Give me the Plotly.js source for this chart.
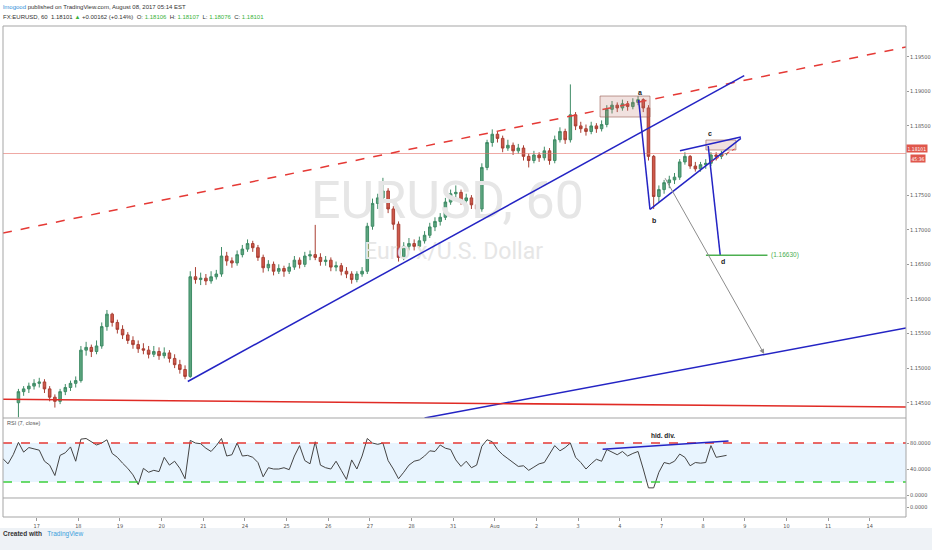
<!DOCTYPE html>
<html>
<head>
<meta charset="utf-8">
<script src="https://cdn.plot.ly/plotly-3.0.1.min.js"></script>
<style>
  html, body { margin: 0; padding: 0; background: #fff; }
  #chart { width: 932px; height: 550px; }
</style>
</head>
<body>
<div id="chart"></div>
<script>
// EURUSD, 3h bars (one row per trading day)
const dayLabels = ["17", "18", "19", "20", "21", "24", "25", "26", "27", "28", "31",
  "Aug", "2", "3", "4", "7", "8", "9", "10", "11", "14"];
// 1.18000 sits under the last-price tags, so it is not listed
const priceTicks = [1.145, 1.15, 1.155, 1.16, 1.165, 1.17, 1.175, 1.185, 1.19, 1.195];
const rsiTicks = [0, 40, 80];

const open = [
  1.1410, 1.1414, 1.1410, 1.1450, 1.1466, 1.1470, 1.1474,
  1.1478, 1.1480, 1.1470, 1.1458, 1.1452, 1.1466, 1.1472, 1.1478,
  1.1482, 1.1526, 1.1530, 1.1524, 1.1532, 1.1560, 1.1578, 1.1566,
  1.1556, 1.1548, 1.1540, 1.1534, 1.1528, 1.1526, 1.1520, 1.1524,
  1.1518, 1.1522, 1.1514, 1.1505, 1.1498, 1.1488, 1.1632, 1.1628,
  1.1630, 1.1626, 1.1632, 1.1636, 1.1662, 1.1655, 1.1652, 1.1664,
  1.1672, 1.1680, 1.1674, 1.1660, 1.1645, 1.1650, 1.1640, 1.1644,
  1.1640, 1.1646, 1.1656, 1.1650, 1.1662, 1.1664, 1.1660, 1.1654,
  1.1656, 1.1646, 1.1648, 1.1640, 1.1636, 1.1628, 1.1636, 1.1640,
  1.1705, 1.1738, 1.1746, 1.1756, 1.1730, 1.1708, 1.1660, 1.1676,
  1.1680, 1.1676, 1.1684, 1.1692, 1.1704, 1.1712, 1.1718, 1.1740,
  1.1752, 1.1754, 1.1742, 1.1746, 1.1736, 1.1730, 1.1790, 1.1826,
  1.1838, 1.1832, 1.1818, 1.1822, 1.1814, 1.1818, 1.1806, 1.1800,
  1.1808, 1.1804, 1.1814, 1.1800, 1.1830, 1.1842, 1.1830, 1.1866,
  1.1850, 1.1846, 1.1842, 1.1850, 1.1846, 1.1852, 1.1874, 1.1880,
  1.1876, 1.1882, 1.1878, 1.1884, 1.1888, 1.1876, 1.1806, 1.1748,
  1.1758, 1.1768, 1.1772, 1.1776, 1.1798, 1.1806, 1.1792, 1.1788,
  1.1794, 1.1796, 1.1808, 1.1806, 1.1810
];
const high = [
  1.1418, 1.1420, 1.1424, 1.1470, 1.1474, 1.1479, 1.1484,
  1.1486, 1.1484, 1.1474, 1.1462, 1.1470, 1.1477, 1.1482, 1.1488,
  1.1532, 1.1538, 1.1534, 1.1540, 1.1566, 1.1584, 1.1580, 1.1570,
  1.1562, 1.1552, 1.1546, 1.1540, 1.1536, 1.1532, 1.1532, 1.1530,
  1.1530, 1.1526, 1.1520, 1.1512, 1.1504, 1.1640, 1.1646, 1.1638,
  1.1636, 1.1640, 1.1642, 1.1675, 1.1668, 1.1660, 1.1670, 1.1678,
  1.1686, 1.1684, 1.1678, 1.1664, 1.1656, 1.1654, 1.1650, 1.1648,
  1.1652, 1.1662, 1.1660, 1.1668, 1.1670, 1.1707, 1.1666, 1.1662,
  1.1660, 1.1654, 1.1652, 1.1646, 1.1640, 1.1640, 1.1646, 1.1710,
  1.1745, 1.1752, 1.1775, 1.1760, 1.1734, 1.1712, 1.1682, 1.1688,
  1.1686, 1.1690, 1.1698, 1.1710, 1.1718, 1.1724, 1.1746, 1.1758,
  1.1764, 1.1758, 1.1752, 1.1750, 1.1742, 1.1796, 1.1830, 1.1845,
  1.1842, 1.1836, 1.1830, 1.1826, 1.1824, 1.1822, 1.1810, 1.1814,
  1.1812, 1.1820, 1.1818, 1.1836, 1.1848, 1.1846, 1.1910, 1.1870,
  1.1856, 1.1852, 1.1856, 1.1854, 1.1858, 1.1880, 1.1886, 1.1884,
  1.1888, 1.1886, 1.1890, 1.1893, 1.1890, 1.1880, 1.1808, 1.1764,
  1.1772, 1.1778, 1.1782, 1.1802, 1.1812, 1.1808, 1.1798, 1.1798,
  1.1802, 1.1812, 1.1812, 1.1814, 1.18107
];
const low = [
  1.1404, 1.1406, 1.1408, 1.1429, 1.1460, 1.1464, 1.1469,
  1.1472, 1.1464, 1.1452, 1.1443, 1.1448, 1.1461, 1.1467, 1.1472,
  1.1479, 1.1518, 1.1516, 1.1520, 1.1528, 1.1554, 1.1560, 1.1550,
  1.1542, 1.1535, 1.1528, 1.1522, 1.1520, 1.1514, 1.1516, 1.1512,
  1.1514, 1.1508, 1.1500, 1.1492, 1.1484, 1.1486, 1.1622, 1.1620,
  1.1620, 1.1622, 1.1628, 1.1632, 1.1648, 1.1645, 1.1648, 1.1660,
  1.1668, 1.1668, 1.1655, 1.1638, 1.1640, 1.1634, 1.1636, 1.1632,
  1.1636, 1.1642, 1.1644, 1.1646, 1.1656, 1.1656, 1.1648, 1.1648,
  1.1640, 1.1640, 1.1634, 1.1630, 1.1622, 1.1624, 1.1632, 1.1636,
  1.1700, 1.1730, 1.1740, 1.1724, 1.1700, 1.1654, 1.1656, 1.1670,
  1.1670, 1.1672, 1.1680, 1.1688, 1.1698, 1.1706, 1.1714, 1.1736,
  1.1746, 1.1736, 1.1738, 1.1730, 1.1724, 1.1726, 1.1786, 1.1820,
  1.1826, 1.1812, 1.1814, 1.1808, 1.1810, 1.1800, 1.1790, 1.1796,
  1.1798, 1.1800, 1.1794, 1.1796, 1.1826, 1.1824, 1.1826, 1.1844,
  1.1840, 1.1836, 1.1838, 1.1840, 1.1842, 1.1848, 1.1868, 1.1870,
  1.1872, 1.1872, 1.1874, 1.1880, 1.1870, 1.1800, 1.1730, 1.1740,
  1.1752, 1.1760, 1.1766, 1.1772, 1.1794, 1.1788, 1.1784, 1.1784,
  1.1788, 1.1792, 1.1800, 1.1802, 1.18076
];
const close = [
  1.1414, 1.1410, 1.1420, 1.1466, 1.1470, 1.1474, 1.1478,
  1.1480, 1.1470, 1.1458, 1.1452, 1.1466, 1.1472, 1.1478, 1.1482,
  1.1526, 1.1530, 1.1524, 1.1532, 1.1560, 1.1578, 1.1566, 1.1556,
  1.1548, 1.1540, 1.1534, 1.1528, 1.1526, 1.1520, 1.1524, 1.1518,
  1.1522, 1.1514, 1.1505, 1.1498, 1.1488, 1.1632, 1.1628, 1.1630,
  1.1626, 1.1632, 1.1636, 1.1662, 1.1655, 1.1652, 1.1664, 1.1672,
  1.1680, 1.1674, 1.1660, 1.1645, 1.1650, 1.1640, 1.1644, 1.1640,
  1.1646, 1.1656, 1.1650, 1.1662, 1.1664, 1.1660, 1.1654, 1.1656,
  1.1646, 1.1648, 1.1640, 1.1636, 1.1628, 1.1636, 1.1640, 1.1705,
  1.1738, 1.1746, 1.1756, 1.1730, 1.1708, 1.1660, 1.1676, 1.1680,
  1.1676, 1.1684, 1.1692, 1.1704, 1.1712, 1.1718, 1.1740, 1.1752,
  1.1754, 1.1742, 1.1746, 1.1736, 1.1730, 1.1790, 1.1826, 1.1838,
  1.1832, 1.1818, 1.1822, 1.1814, 1.1818, 1.1806, 1.1800, 1.1808,
  1.1804, 1.1814, 1.1800, 1.1830, 1.1842, 1.1830, 1.1866, 1.1850,
  1.1846, 1.1842, 1.1850, 1.1846, 1.1852, 1.1874, 1.1880, 1.1876,
  1.1882, 1.1878, 1.1884, 1.1888, 1.1876, 1.1806, 1.1748, 1.1758,
  1.1768, 1.1772, 1.1776, 1.1798, 1.1806, 1.1792, 1.1788, 1.1794,
  1.1796, 1.1808, 1.1806, 1.1810, 1.18101
];
const rsi = [
  56, 48, 62, 81, 66, 73, 71,
  69, 52, 46, 30, 61, 65, 74, 52,
  86, 87, 82, 77, 80, 85, 64, 58,
  49, 41, 31, 16, 41, 35, 38, 36,
  58, 46, 52, 41, 25, 84, 80, 79,
  72, 67, 76, 87, 60, 62, 80, 60,
  61, 58, 50, 28, 42, 40, 40, 42,
  39, 60, 76, 53, 48, 82, 46, 42,
  40, 52, 38, 24, 54, 40, 60, 87,
  80, 78, 80, 53, 40, 25, 35, 46,
  52, 54, 60, 68, 67, 77, 72, 70,
  54, 44, 52, 42, 46, 75, 85, 82,
  70, 62, 56, 50, 44, 45, 38, 43,
  48, 50, 62, 76, 68, 73, 80, 58,
  50, 40, 48, 55, 52, 70, 66, 62,
  67, 60, 64, 67, 40, 11, 11, 35,
  50, 48, 52, 63, 58, 45, 50, 49,
  50, 76, 58, 59, 61
];

// x = trading day index (0 = Jul 17), bars are 3h wide, first bar is Jul 14 03:00
const x = close.map((c, i) => -1 + (i + 1.5) / 8);

const FONT = "Liberation Sans, Arial, sans-serif";
const NARROW = "Liberation Sans Narrow, DejaVu Sans Condensed, Liberation Sans, sans-serif";
const BLUE = "#2424c4";
const RED = "#e53935";

function seg(x0, y0, x1, y1, color, width, dash, yref) {
  return {type: "line", xref: "x", yref: yref || "y", x0: x0, y0: y0, x1: x1, y1: y1,
    line: {color: color, width: width, dash: dash || "solid"}};
}

const shapes = [
  // rsi band and levels
  {type: "rect", xref: "paper", yref: "y2", x0: 0, x1: 1, y0: 20, y1: 80,
    fillcolor: "rgba(33,150,243,0.1)", line: {width: 0}, layer: "below"},
  {type: "line", xref: "paper", yref: "y2", x0: 0, x1: 1, y0: 80, y1: 80,
    line: {color: RED, width: 1.5, dash: "dash"}},
  {type: "line", xref: "paper", yref: "y2", x0: 0, x1: 1, y0: 20, y1: 20,
    line: {color: "#3ccf3c", width: 1.5, dash: "dash"}},
  // current price
  {type: "line", xref: "paper", yref: "y", x0: 0, x1: 1, y0: 1.18101, y1: 1.18101,
    line: {color: "rgba(228,110,100,0.6)", width: 1}},
  // channel / trend lines
  seg(-0.808, 1.16952, 20.87, 1.19640, RED, 1.5, "dash"),
  seg(3.628, 1.14807, 16.986, 1.19228, BLUE, 1.5),
  seg(9.312, 1.14279, 20.87, 1.15580, BLUE, 1.5),
  seg(-0.808, 1.14549, 20.87, 1.14438, "#e02b25", 1.5),
  // a box and c box
  {type: "rect", xref: "x", yref: "y", x0: 13.525, x1: 14.724, y0: 1.18629, y1: 1.18932,
    fillcolor: "rgba(190,120,110,0.22)", line: {color: "rgba(150,90,80,0.6)", width: 1}},
  {type: "rect", xref: "x", yref: "y", x0: 16.067, x1: 16.787, y0: 1.18152, y1: 1.18296,
    fillcolor: "rgba(190,120,110,0.22)", line: {color: "rgba(150,90,80,0.6)", width: 1}},
  // abcd
  seg(14.451, 1.18874, 14.724, 1.17295, BLUE, 1.5),
  seg(14.724, 1.17295, 16.906, 1.18321, BLUE, 1.5),
  seg(15.444, 1.18142, 16.906, 1.18340, BLUE, 1.5),
  seg(16.122, 1.18210, 16.410, 1.16634, BLUE, 1.5),
  seg(16.187, 1.17983, 16.787, 1.18176, RED, 1, "dot"),
  seg(16.067, 1.1663, 17.544, 1.1663, "#4caf50", 1.5),
  // hidden divergence on rsi
  seg(13.588, 70.3, 16.609, 83.1, BLUE, 1.5, "solid", "y2"),
  // frame
  {type: "rect", xref: "paper", yref: "paper", x0: 0, x1: 1, y0: 0, y1: 1,
    line: {color: "#a5a5a5", width: 1}},
  {type: "line", xref: "paper", yref: "paper", x0: 0, x1: 1, y0: 0.2016, y1: 0.2016,
    line: {color: "#a5a5a5", width: 1}},
  {type: "line", xref: "paper", yref: "paper", x0: 0, x1: 1, y0: 0.0387, y1: 0.0387,
    line: {color: "#a5a5a5", width: 1}},
  // footer strip
  {type: "rect", xref: "paper", yref: "paper", x0: -0.01, x1: 1.04, y0: -0.08, y1: -0.0224,
    fillcolor: "#eef2f6", line: {width: 0}}
];

function note(text, xv, yv, size, color, extra) {
  return Object.assign({text: text, x: xv, y: yv, xref: "x", yref: "y", showarrow: false,
    font: {family: FONT, size: size, color: color}}, extra || {});
}

const annotations = [
  {text: '<span style="color:#2f8fd8">lmogood</span> published on TradingView.com, August 08, 2017 05:14 EST',
    xref: "paper", yref: "paper", x: 0, xshift: -2, y: 1.0387, xanchor: "left", yanchor: "middle",
    showarrow: false, font: {family: FONT, size: 6, color: "#333"}},
  {text: 'FX:EURUSD, 60  1.18101 <span style="color:#3bb33b">▲</span> +0.00162 (+0.14%)  O: <span style="color:#3bb33b">1.18106</span>  H: <span style="color:#3bb33b">1.18107</span>  L: <span style="color:#3bb33b">1.18076</span>  C: <span style="color:#3bb33b">1.18101</span>',
    xref: "paper", yref: "paper", x: 0, xshift: -2, y: 1.0183, xanchor: "left", yanchor: "middle",
    showarrow: false, font: {family: FONT, size: 6, color: "#333"}},
  {text: "RSI (7, close)", xref: "paper", yref: "paper", x: 0, xshift: 2, y: 0.1813,
    xanchor: "left", showarrow: false, font: {family: FONT, size: 5.5, color: "#555"}},
  {text: "1.18101", xref: "paper", yref: "y", x: 1, xshift: 0, y: 1.18101, yshift: 5,
    xanchor: "left", showarrow: false, bgcolor: "#e0574c", borderpad: 0.5,
    font: {family: NARROW, size: 5, color: "#fff"}},
  {text: "45:36", xref: "paper", yref: "y", x: 1, xshift: 4, y: 1.18101, yshift: -5,
    xanchor: "left", showarrow: false, bgcolor: "#e0574c", borderpad: 0.5,
    font: {family: NARROW, size: 5, color: "#fff"}},
  note("<b>a</b>", 14.492, 1.18980, 7, "#222"),
  note("<b>b</b>", 14.827, 1.17140, 7, "#222"),
  note("<b>c</b>", 16.163, 1.18393, 7, "#222"),
  note("<b>d</b>", 16.482, 1.16538, 7, "#222"),
  note("(1.16630)", 17.59, 1.1663, 6.5, "#4caf50", {xanchor: "left"}),
  note("<b>hid. div.</b>", 15.043, 91.2, 6.5, "#222", {yref: "y2"}),
  {text: "", x: 17.465, y: 1.15204, ax: 15.067, ay: 1.17766, xref: "x", yref: "y",
    axref: "x", ayref: "y", showarrow: true, arrowhead: 2, arrowsize: 1, arrowwidth: 1,
    arrowcolor: "#8c8c8c"},
  {text: '<b>Created with</b>   <span style="color:#3aa0dc">TradingView</span>',
    xref: "paper", yref: "paper", x: 0, xshift: -2, y: -0.0468, xanchor: "left",
    showarrow: false, font: {family: FONT, size: 6.5, color: "#333"}}
];

const data = [
  {type: "scatter", mode: "text", x: [9.863, 10.007], y: [1.17357, 1.16663],
    text: ["EURUSD, 60", "Euro x/U.S. Dollar"], textposition: "middle center",
    textfont: {family: "Roboto, sans-serif", size: [52, 23], color: "#e6e6e6"},
    hoverinfo: "skip", xaxis: "x", yaxis: "y"},
  {type: "candlestick", x: x, open: open, high: high, low: low, close: close,
    xaxis: "x", yaxis: "y", whiskerwidth: 0,
    increasing: {line: {color: "#3f8c66", width: 1}, fillcolor: "#5ca57f"},
    decreasing: {line: {color: "#a93f33", width: 1}, fillcolor: "#d0594b"},
    hoverinfo: "skip"},
  {type: "scatter", mode: "lines", x: x, y: rsi, xaxis: "x", yaxis: "y2",
    line: {color: "#444", width: 1}, hoverinfo: "skip"},
  // empty third pane, only there so its axis is drawn
  {type: "scatter", mode: "lines", x: [0], y: [0], xaxis: "x", yaxis: "y3",
    line: {color: "rgba(0,0,0,0)", width: 0}, hoverinfo: "skip"}
];

const tickFont = {family: NARROW, size: 5.5, color: "#555"};

const layout = {
  width: 932, height: 550,
  margin: {l: 3, r: 26, t: 26, b: 33},
  paper_bgcolor: "#fff", plot_bgcolor: "#fff",
  showlegend: false, hovermode: false,
  xaxis: {domain: [0, 1], range: [-0.808, 20.87], anchor: "y3",
    tickvals: dayLabels.map((d, i) => i), ticktext: dayLabels,
    ticks: "outside", ticklen: 3, tickcolor: "#999", tickfont: tickFont,
    showgrid: false, zeroline: false, showline: false, rangeslider: {visible: false}},
  yaxis: {domain: [0.2016, 1], range: [1.14279, 1.19944], side: "right", anchor: "x",
    tickvals: priceTicks, tickformat: ".5f", ticks: "outside", ticklen: 2, tickcolor: "#999",
    tickfont: tickFont, showgrid: false, zeroline: false},
  yaxis2: {domain: [0.0387, 0.2016], range: [-4.6, 118.5], side: "right", anchor: "x",
    tickvals: rsiTicks, tickformat: ".4f", ticks: "outside", ticklen: 2, tickcolor: "#999",
    tickfont: tickFont, showgrid: false, zeroline: false},
  yaxis3: {domain: [0, 0.0387], range: [-1, 1], side: "right", anchor: "x",
    tickvals: [0], tickformat: ".4f", ticks: "outside", ticklen: 2, tickcolor: "#999",
    tickfont: tickFont, showgrid: false, zeroline: false},
  shapes: shapes,
  annotations: annotations
};

Plotly.newPlot("chart", data, layout, {staticPlot: true, displayModeBar: false});
</script>
</body>
</html>
